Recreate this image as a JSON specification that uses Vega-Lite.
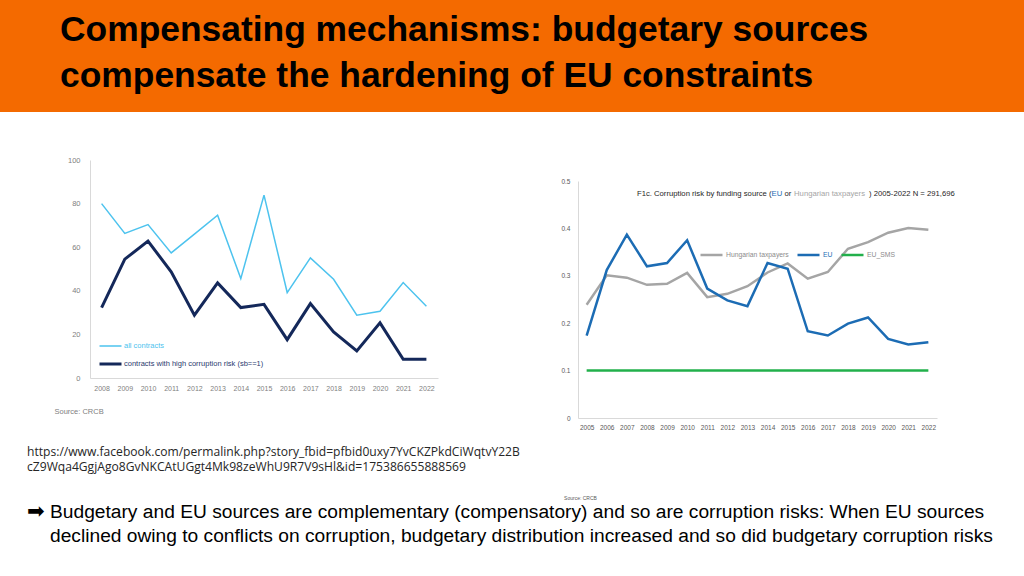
{
  "$schema": "https://vega.github.io/schema/vega-lite/v6.json",
  "width": 1024,
  "height": 576,
  "autosize": {"type": "none"},
  "padding": 0,
  "background": "white",
  "config": {"view": {"stroke": null}, "font": "Liberation Sans"},
  "datasets": {
    "left": [
      {"year": "2008", "series": "all contracts", "value": 80.0},
      {"year": "2009", "series": "all contracts", "value": 66.3},
      {"year": "2010", "series": "all contracts", "value": 70.4},
      {"year": "2011", "series": "all contracts", "value": 57.4},
      {"year": "2012", "series": "all contracts", "value": 66.0},
      {"year": "2013", "series": "all contracts", "value": 74.7},
      {"year": "2014", "series": "all contracts", "value": 45.6},
      {"year": "2015", "series": "all contracts", "value": 83.9},
      {"year": "2016", "series": "all contracts", "value": 39.2},
      {"year": "2017", "series": "all contracts", "value": 55.1},
      {"year": "2018", "series": "all contracts", "value": 45.3},
      {"year": "2019", "series": "all contracts", "value": 28.8},
      {"year": "2020", "series": "all contracts", "value": 30.6},
      {"year": "2021", "series": "all contracts", "value": 43.8},
      {"year": "2022", "series": "all contracts", "value": 32.9},
      {"year": "2008", "series": "contracts with high corruption risk (sb==1)", "value": 32.3},
      {"year": "2009", "series": "contracts with high corruption risk (sb==1)", "value": 54.5},
      {"year": "2010", "series": "contracts with high corruption risk (sb==1)", "value": 62.8},
      {"year": "2011", "series": "contracts with high corruption risk (sb==1)", "value": 48.7},
      {"year": "2012", "series": "contracts with high corruption risk (sb==1)", "value": 28.8},
      {"year": "2013", "series": "contracts with high corruption risk (sb==1)", "value": 43.6},
      {"year": "2014", "series": "contracts with high corruption risk (sb==1)", "value": 32.3},
      {"year": "2015", "series": "contracts with high corruption risk (sb==1)", "value": 33.8},
      {"year": "2016", "series": "contracts with high corruption risk (sb==1)", "value": 17.6},
      {"year": "2017", "series": "contracts with high corruption risk (sb==1)", "value": 34.1},
      {"year": "2018", "series": "contracts with high corruption risk (sb==1)", "value": 21.1},
      {"year": "2019", "series": "contracts with high corruption risk (sb==1)", "value": 12.4},
      {"year": "2020", "series": "contracts with high corruption risk (sb==1)", "value": 25.3},
      {"year": "2021", "series": "contracts with high corruption risk (sb==1)", "value": 8.6},
      {"year": "2022", "series": "contracts with high corruption risk (sb==1)", "value": 8.6}
    ],
    "right": [
      {"year": "2005", "series": "Hungarian taxpayers", "value": 0.239},
      {"year": "2006", "series": "Hungarian taxpayers", "value": 0.301},
      {"year": "2007", "series": "Hungarian taxpayers", "value": 0.296},
      {"year": "2008", "series": "Hungarian taxpayers", "value": 0.281},
      {"year": "2009", "series": "Hungarian taxpayers", "value": 0.283},
      {"year": "2010", "series": "Hungarian taxpayers", "value": 0.306},
      {"year": "2011", "series": "Hungarian taxpayers", "value": 0.255},
      {"year": "2012", "series": "Hungarian taxpayers", "value": 0.262},
      {"year": "2013", "series": "Hungarian taxpayers", "value": 0.278},
      {"year": "2014", "series": "Hungarian taxpayers", "value": 0.307},
      {"year": "2015", "series": "Hungarian taxpayers", "value": 0.326},
      {"year": "2016", "series": "Hungarian taxpayers", "value": 0.294},
      {"year": "2017", "series": "Hungarian taxpayers", "value": 0.308},
      {"year": "2018", "series": "Hungarian taxpayers", "value": 0.357},
      {"year": "2019", "series": "Hungarian taxpayers", "value": 0.371},
      {"year": "2020", "series": "Hungarian taxpayers", "value": 0.391},
      {"year": "2021", "series": "Hungarian taxpayers", "value": 0.401},
      {"year": "2022", "series": "Hungarian taxpayers", "value": 0.397},
      {"year": "2005", "series": "EU", "value": 0.174},
      {"year": "2006", "series": "EU", "value": 0.312},
      {"year": "2007", "series": "EU", "value": 0.387},
      {"year": "2008", "series": "EU", "value": 0.320},
      {"year": "2009", "series": "EU", "value": 0.327},
      {"year": "2010", "series": "EU", "value": 0.375},
      {"year": "2011", "series": "EU", "value": 0.273},
      {"year": "2012", "series": "EU", "value": 0.248},
      {"year": "2013", "series": "EU", "value": 0.236},
      {"year": "2014", "series": "EU", "value": 0.327},
      {"year": "2015", "series": "EU", "value": 0.315},
      {"year": "2016", "series": "EU", "value": 0.183},
      {"year": "2017", "series": "EU", "value": 0.174},
      {"year": "2018", "series": "EU", "value": 0.199},
      {"year": "2019", "series": "EU", "value": 0.212},
      {"year": "2020", "series": "EU", "value": 0.167},
      {"year": "2021", "series": "EU", "value": 0.155},
      {"year": "2022", "series": "EU", "value": 0.160},
      {"year": "2005", "series": "EU_SMS", "value": 0.1},
      {"year": "2006", "series": "EU_SMS", "value": 0.1},
      {"year": "2007", "series": "EU_SMS", "value": 0.1},
      {"year": "2008", "series": "EU_SMS", "value": 0.1},
      {"year": "2009", "series": "EU_SMS", "value": 0.1},
      {"year": "2010", "series": "EU_SMS", "value": 0.1},
      {"year": "2011", "series": "EU_SMS", "value": 0.1},
      {"year": "2012", "series": "EU_SMS", "value": 0.1},
      {"year": "2013", "series": "EU_SMS", "value": 0.1},
      {"year": "2014", "series": "EU_SMS", "value": 0.1},
      {"year": "2015", "series": "EU_SMS", "value": 0.1},
      {"year": "2016", "series": "EU_SMS", "value": 0.1},
      {"year": "2017", "series": "EU_SMS", "value": 0.1},
      {"year": "2018", "series": "EU_SMS", "value": 0.1},
      {"year": "2019", "series": "EU_SMS", "value": 0.1},
      {"year": "2020", "series": "EU_SMS", "value": 0.1},
      {"year": "2021", "series": "EU_SMS", "value": 0.1},
      {"year": "2022", "series": "EU_SMS", "value": 0.1}
    ]
  },
  "layer": [
    {
      "data": {"values": [{"part": "banner"}]},
      "mark": {"type": "rect", "color": "#F46A00"},
      "encoding": {
        "y": {"field": "part", "type": "nominal", "scale": {"range": [0, 112], "paddingInner": 0, "paddingOuter": 0}, "axis": null}
      }
    },
    {
      "data": {"values": [{"t": ["Compensating mechanisms: budgetary sources", "compensate the hardening of EU constraints"]}]},
      "mark": {"type": "text", "x": 60, "y": 41, "align": "left", "baseline": "alphabetic", "font": "Liberation Sans", "fontWeight": "bold", "fontSize": 35.4, "lineHeight": 46, "color": "#000000"},
      "encoding": {"text": {"field": "t"}}
    },
    {
      "data": {"name": "left"},
      "mark": {"type": "line", "strokeJoin": "miter"},
      "encoding": {
        "x": {"field": "year", "type": "ordinal", "scale": {"type": "point", "range": [90, 438], "padding": 0.5},
          "axis": {"orient": "bottom", "offset": -198, "domainColor": "#D9D9D9", "ticks": false, "grid": false, "labelAngle": 0, "labelColor": "#808080", "labelFontSize": 7, "labelPadding": 6,
            "title": "Source: CRCB", "titleX": 54, "titleY": 33, "titleAlign": "left", "titleBaseline": "middle", "titleAnchor": null, "titleFontSize": 7.5, "titleFontWeight": "normal", "titleColor": "#808080"}},
        "y": {"field": "value", "type": "quantitative", "scale": {"domain": [0, 100], "range": [378, 160], "nice": false},
          "axis": {"orient": "left", "offset": -90, "values": [0, 20, 40, 60, 80, 100], "domainColor": "#D9D9D9", "ticks": false, "grid": false, "labelColor": "#808080", "labelFontSize": 7.5, "labelPadding": 10, "title": null}},
        "color": {"field": "series", "type": "nominal", "scale": {"domain": ["all contracts", "contracts with high corruption risk (sb==1)"], "range": ["#4DC3EE", "#14285A"]},
          "legend": {"orient": "none", "legendX": 98, "legendY": 337, "title": null, "padding": 0, "symbolType": "stroke", "symbolSize": 484, "clipHeight": 18, "rowPadding": 0, "labelOffset": 1, "labelFontSize": 7.5, "labelFont": "Liberation Sans",
            "encode": {"labels": {"update": {"fill": [{"test": "datum.value === 'all contracts'", "value": "#4DC3EE"}, {"value": "#2A3A6E"}]}}}}},
        "strokeWidth": {"field": "series", "type": "nominal", "scale": {"domain": ["all contracts", "contracts with high corruption risk (sb==1)"], "range": [1.5, 3]},
          "legend": {"orient": "none", "legendX": 98, "legendY": 337, "title": null, "padding": 0, "symbolType": "stroke", "symbolSize": 484, "clipHeight": 18, "rowPadding": 0, "labelOffset": 1, "labelFontSize": 7.5, "labelFont": "Liberation Sans",
            "encode": {"labels": {"update": {"fill": [{"test": "datum.value === 'all contracts'", "value": "#4DC3EE"}, {"value": "#2A3A6E"}]}}}}}
      }
    },
    {
      "data": {"name": "right"},
      "layer": [
        {
          "mark": {"type": "line", "strokeWidth": 2.5, "strokeJoin": "miter"},
          "encoding": {
            "x": {"field": "year", "type": "ordinal", "scale": {"type": "point", "range": [578, 937], "padding": 0.43},
              "axis": {"orient": "bottom", "offset": -158, "domainColor": "#D9D9D9", "ticks": false, "grid": false, "labelAngle": 0, "labelColor": "#595959", "labelFontSize": 6.5, "labelPadding": 6,
                "title": "Source: CRCB", "titleX": 580, "titleY": 79, "titleAlign": "center", "titleBaseline": "middle", "titleAnchor": null, "titleFontSize": 5, "titleFontWeight": "normal", "titleColor": "#595959"}},
            "y": {"field": "value", "type": "quantitative", "scale": {"domain": [0, 0.5], "range": [418, 181], "nice": false},
              "axis": {"orient": "left", "offset": -578, "values": [0, 0.1, 0.2, 0.3, 0.4, 0.5], "format": ".1~f", "domainColor": "#D9D9D9", "ticks": false, "grid": false, "labelColor": "#595959", "labelFontSize": 6.5, "labelPadding": 8, "title": null}},
            "color": {"field": "series", "type": "nominal", "scale": {"domain": ["Hungarian taxpayers", "EU", "EU_SMS"], "range": ["#A5A5A5", "#1C6CB4", "#22B04B"]},
              "legend": {"orient": "none", "direction": "horizontal", "legendX": 699, "legendY": 249, "title": null, "padding": 0, "symbolType": "stroke", "symbolSize": 484, "symbolStrokeWidth": 2.5, "clipHeight": 12, "columnPadding": 7, "labelOffset": 2, "labelFontSize": 6.8, "labelFont": "Liberation Sans",
                "encode": {"labels": {"update": {"fill": [{"test": "datum.value === 'EU'", "value": "#1C6CB4"}, {"value": "#8C8C8C"}]}}}}}
          }
        },
        {
          "data": {"values": [{"p": "F1c. Corruption risk by funding source (", "yr": "2008"}]},
          "mark": {"type": "text", "align": "left", "baseline": "middle", "fontSize": 7.7, "font": "Liberation Sans", "color": "#262626", "dx": -10},
          "encoding": {"x": {"field": "yr", "type": "ordinal"}, "y": {"datum": 0.4726, "type": "quantitative"}, "text": {"field": "p"}}
        },
        {
          "data": {"values": [{"p": "EU", "yr": "2014"}]},
          "mark": {"type": "text", "align": "left", "baseline": "middle", "fontSize": 7.7, "font": "Liberation Sans", "color": "#1C6CB4", "dx": 4},
          "encoding": {"x": {"field": "yr", "type": "ordinal"}, "y": {"datum": 0.4726, "type": "quantitative"}, "text": {"field": "p"}}
        },
        {
          "data": {"values": [{"p": "or", "yr": "2014"}]},
          "mark": {"type": "text", "align": "left", "baseline": "middle", "fontSize": 7.7, "font": "Liberation Sans", "color": "#262626", "dx": 17},
          "encoding": {"x": {"field": "yr", "type": "ordinal"}, "y": {"datum": 0.4726, "type": "quantitative"}, "text": {"field": "p"}}
        },
        {
          "data": {"values": [{"p": "Hungarian taxpayers", "yr": "2015"}]},
          "mark": {"type": "text", "align": "left", "baseline": "middle", "fontSize": 7.7, "font": "Liberation Sans", "color": "#A5A5A5", "dx": 6.4},
          "encoding": {"x": {"field": "yr", "type": "ordinal"}, "y": {"datum": 0.4726, "type": "quantitative"}, "text": {"field": "p"}}
        },
        {
          "data": {"values": [{"p": ") 2005-2022 N = 291,696", "yr": "2019"}]},
          "mark": {"type": "text", "align": "left", "baseline": "middle", "fontSize": 7.7, "font": "Liberation Sans", "color": "#262626", "dx": 1},
          "encoding": {"x": {"field": "yr", "type": "ordinal"}, "y": {"datum": 0.4726, "type": "quantitative"}, "text": {"field": "p"}}
        }
      ]
    },
    {
      "data": {"values": [{"t": ["https://www.facebook.com/permalink.php?story_fbid=pfbid0uxy7YvCKZPkdCiWqtvY22B", "cZ9Wqa4GgjAgo8GvNKCAtUGgt4Mk98zeWhU9R7V9sHl&id=175386655888569"]}]},
      "mark": {"type": "text", "x": 27, "y": 456, "align": "left", "baseline": "alphabetic", "font": "Open Sans", "fontSize": 12.1, "lineHeight": 15, "color": "#262626"},
      "encoding": {"text": {"field": "t"}}
    },
    {
      "data": {"values": [{"t": "➡"}]},
      "mark": {"type": "text", "x": 27, "y": 518, "align": "left", "baseline": "alphabetic", "font": "DejaVu Sans", "fontSize": 21, "color": "#000000"},
      "encoding": {"text": {"field": "t"}}
    },
    {
      "data": {"values": [{"t": ["Budgetary and EU sources are complementary (compensatory) and so are corruption risks: When EU sources", "declined owing to conflicts on corruption, budgetary distribution increased and so did budgetary corruption risks"]}]},
      "mark": {"type": "text", "x": 50, "y": 518, "align": "left", "baseline": "alphabetic", "font": "Liberation Sans", "fontSize": 19.2, "lineHeight": 23.5, "color": "#000000"},
      "encoding": {"text": {"field": "t"}}
    }
  ],
  "resolve": {"scale": {"x": "independent", "y": "independent", "color": "independent", "strokeWidth": "independent"}}
}
